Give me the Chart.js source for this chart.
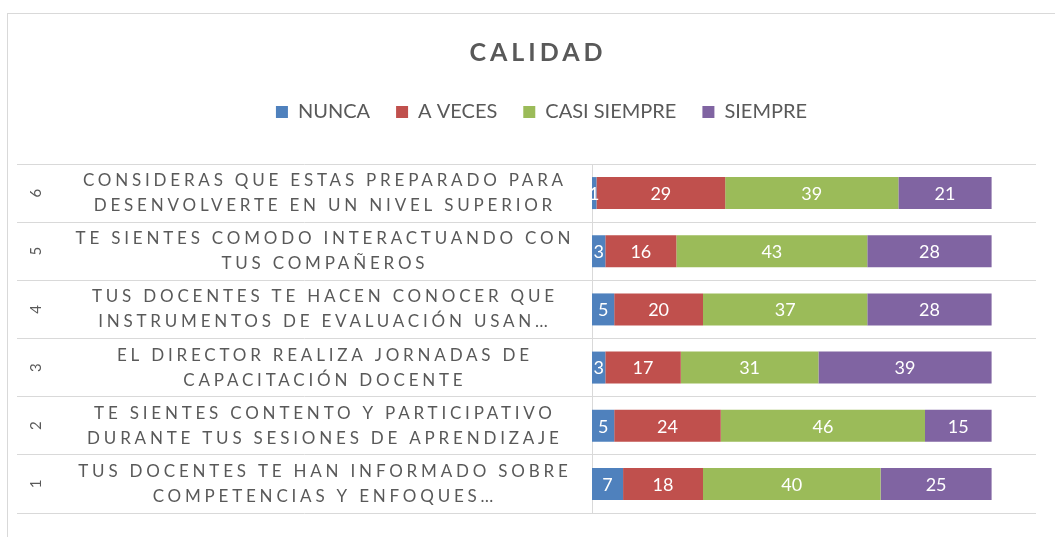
<!DOCTYPE html>
<html>
<head>
<meta charset="utf-8">
<script src="https://cdn.jsdelivr.net/npm/chart.js@4"></script>
<style>
  body { margin: 0; background: #fff; }
  canvas { display: block; }
</style>
</head>
<body>
<canvas id="calidadChart" width="1055" height="537"></canvas>
<script>
// Data (bottom to top, like the Excel chart)
var numeros = ['1', '2', '3', '4', '5', '6'];
var preguntas = [
    ['TUS DOCENTES TE HAN INFORMADO SOBRE', 'COMPETENCIAS Y ENFOQUES…'],
    ['TE SIENTES CONTENTO Y PARTICIPATIVO', 'DURANTE TUS SESIONES DE APRENDIZAJE'],
    ['EL DIRECTOR REALIZA JORNADAS DE', 'CAPACITACIÓN DOCENTE'],
    ['TUS DOCENTES TE HACEN CONOCER QUE', 'INSTRUMENTOS DE EVALUACIÓN USAN…'],
    ['TE SIENTES COMODO INTERACTUANDO CON', 'TUS COMPAÑEROS'],
    ['CONSIDERAS QUE ESTAS PREPARADO PARA', 'DESENVOLVERTE EN UN NIVEL SUPERIOR']
];
var nunca = [7, 5, 3, 5, 3, 1];
var aVeces = [18, 24, 17, 20, 16, 29];
var casiSiempre = [40, 46, 31, 37, 43, 39];
var siempre = [25, 15, 39, 28, 28, 21];

var gris = '#595959';
var lineaGris = '#d9d9d9';

// Frame, title, category labels and value labels
var extras = {
    id: 'extras',
    afterLayout: function (chart) {
        // legend sits a bit right of centre in the original
        chart.legend.left += 15;
        chart.legend.right += 15;
    },
    beforeDraw: function (chart) {
        var c = chart.ctx;
        c.save();
        c.strokeStyle = lineaGris;
        c.lineWidth = 1;
        c.strokeRect(7.5, 13.5, 1200, 700);
        c.restore();
    },
    afterDraw: function (chart) {
        var c = chart.ctx;
        var y = chart.scales.y;
        c.save();
        c.fillStyle = gris;
        c.textBaseline = 'middle';

        // title
        c.font = 'bold 25px Lato';
        c.letterSpacing = '4px';
        c.textAlign = 'left';
        var w = c.measureText('CALIDAD').width - 4;
        c.fillText('CALIDAD', 536 - w / 2, 53);

        // question labels
        c.font = '17px Lato';
        c.letterSpacing = '3.8px';
        for (var i = 0; i < preguntas.length; i++) {
            var py = y.getPixelForValue(i);
            for (var k = 0; k < preguntas[i].length; k++) {
                var t = preguntas[i][k];
                var tw = c.measureText(t).width - 3.8;
                c.fillText(t, 323 - tw / 2, py - 12.5 + k * 25);
            }
        }

        // outer level numbers, rotated
        c.letterSpacing = '0px';
        c.font = '15px Lato';
        c.textAlign = 'center';
        for (var j = 0; j < numeros.length; j++) {
            c.save();
            c.translate(36, y.getPixelForValue(j));
            c.rotate(-Math.PI / 2);
            c.fillText(numeros[j], 0, 0);
            c.restore();
        }
        c.restore();
    },
    afterDatasetsDraw: function (chart) {
        var c = chart.ctx;
        c.save();
        c.font = '18px Lato';
        c.fillStyle = '#ffffff';
        c.textAlign = 'center';
        c.textBaseline = 'middle';
        chart.data.datasets.forEach(function (ds, d) {
            chart.getDatasetMeta(d).data.forEach(function (bar, i) {
                c.fillText(ds.data[i], (bar.x + bar.base) / 2, bar.y + 1);
            });
        });
        c.restore();
    }
};

var ctx = document.getElementById('calidadChart').getContext('2d');
var calidadChart = new Chart(ctx, {
    type: 'bar',
    data: {
        labels: numeros,
        datasets: [
            { label: 'NUNCA', data: nunca, backgroundColor: '#4f81bd' },
            { label: 'A VECES', data: aVeces, backgroundColor: '#c0504d' },
            { label: 'CASI SIEMPRE', data: casiSiempre, backgroundColor: '#9bbb59' },
            { label: 'SIEMPRE', data: siempre, backgroundColor: '#8064a2' }
        ]
    },
    options: {
        indexAxis: 'y',
        responsive: false,
        animation: false,
        layout: { padding: { top: 76, left: 17, right: 19, bottom: 24 } },
        datasets: { bar: { categoryPercentage: 0.55, barPercentage: 1, borderWidth: 0 } },
        plugins: {
            legend: {
                position: 'top',
                labels: {
                    font: { family: 'Lato', size: 20 },
                    color: gris,
                    boxWidth: 12,
                    boxHeight: 12,
                    padding: 26
                }
            },
            tooltip: { enabled: false }
        },
        scales: {
            x: {
                stacked: true,
                position: 'top',
                min: 0,
                max: 100,
                ticks: { display: false },
                grid: { display: false },
                border: { display: false },
                afterFit: function (s) { s.height = 32; }
            },
            y: {
                stacked: true,
                reverse: true,
                ticks: { display: false },
                grid: { color: lineaGris, offset: true, drawTicks: true, tickLength: 575 },
                border: { display: true, color: lineaGris },
                afterFit: function (s) { s.width = 575; }
            }
        }
    },
    plugins: [extras]
});
</script>
</body>
</html>
